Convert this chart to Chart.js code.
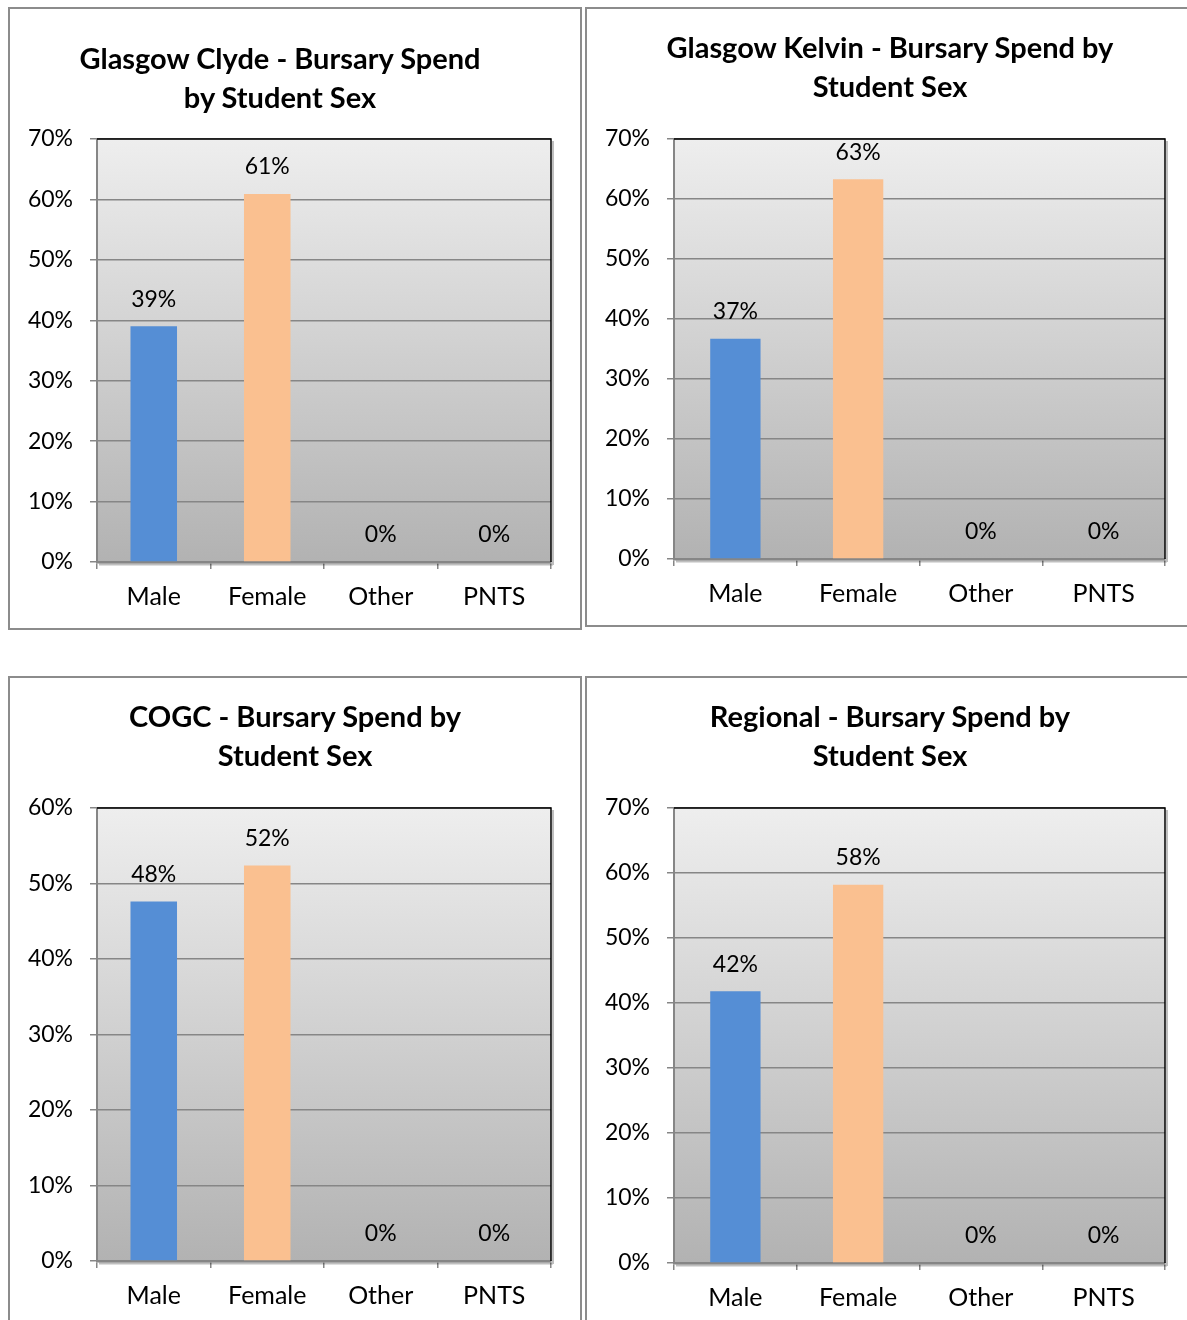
<!DOCTYPE html>
<html><head><meta charset="utf-8">
<script src="https://cdn.jsdelivr.net/npm/chart.js@4"></script>
<style>
html,body{margin:0;padding:0;background:#fff;width:1187px;height:1320px;overflow:hidden;position:relative;}
.box{position:absolute;border:2px solid #8c8c8c;box-sizing:border-box;}
.title{position:absolute;font-family:Lato,sans-serif;font-weight:bold;font-size:29px;line-height:39px;text-align:center;color:#000;white-space:nowrap;width:600px;}
canvas{position:absolute;}
</style></head><body>
<script>
// ---- data ----
const categories = ['Male', 'Female', 'Other', 'PNTS'];
const clydeValues = [39.0, 60.9, 0, 0];
const kelvinValues = [36.7, 63.3, 0, 0];
const cogcValues = [47.6, 52.4, 0, 0];
const regionalValues = [41.8, 58.2, 0, 0];
const clydeTitle = ['Glasgow Clyde - Bursary Spend', 'by Student Sex'];
const kelvinTitle = ['Glasgow Kelvin - Bursary Spend by', 'Student Sex'];
const cogcTitle = ['COGC - Bursary Spend by', 'Student Sex'];
const regionalTitle = ['Regional - Bursary Spend by', 'Student Sex'];
const clydeYMax = 70, kelvinYMax = 70, cogcYMax = 60, regionalYMax = 70;
const yStep = 10;

// ---- layout (page pixels) ----
const panels = [
  {values: clydeValues, title: clydeTitle, yMax: clydeYMax, box: [8, 7, 574, 623], plot: [97, 139, 551, 562], titleX: 280, titleY: 59},
  {values: kelvinValues, title: kelvinTitle, yMax: kelvinYMax, box: [585, 7, 610, 620], plot: [674, 139, 1165, 559], titleX: 890, titleY: 48},
  {values: cogcValues, title: cogcTitle, yMax: cogcYMax, box: [8, 676, 574, 700], plot: [97, 808, 551, 1261], titleX: 295, titleY: 717},
  {values: regionalValues, title: regionalTitle, yMax: regionalYMax, box: [585, 676, 610, 700], plot: [674, 808, 1165, 1263], titleX: 890, titleY: 717}
];

const FONT = 'Lato, sans-serif';
const LABEL_SIZE = 23;
const CAT_SIZE = 25;
const GRID = '#868686';
const XH = 60;

const bgPlugin = {
  id: 'bg',
  beforeDraw(chart) {
    const a = chart.chartArea, ctx = chart.ctx;
    const g = ctx.createLinearGradient(0, a.top, 0, a.bottom);
    g.addColorStop(0, '#eeeeee');
    g.addColorStop(1, '#b2b2b2');
    ctx.save();
    ctx.fillStyle = g;
    ctx.fillRect(a.left, a.top, a.right - a.left, a.bottom - a.top);
    ctx.restore();
  },
  afterDraw(chart) {
    const a = chart.chartArea, ctx = chart.ctx;
    ctx.save();
    ctx.strokeStyle = 'rgba(0,0,0,0.25)';
    ctx.lineWidth = 2;
    ctx.beginPath();
    ctx.moveTo(a.right + 2, a.top + 2); ctx.lineTo(a.right + 2, a.bottom + 3);
    ctx.moveTo(a.left + 2, a.bottom + 2.5); ctx.lineTo(a.right + 2, a.bottom + 2.5);
    ctx.stroke();
    ctx.strokeStyle = '#000';
    ctx.lineWidth = 1.5;
    ctx.beginPath();
    ctx.moveTo(a.left, a.top); ctx.lineTo(a.right, a.top); ctx.lineTo(a.right, a.bottom);
    ctx.stroke();
    ctx.restore();
  }
};

const labelPlugin = {
  id: 'vals',
  afterDatasetsDraw(chart) {
    const ctx = chart.ctx, meta = chart.getDatasetMeta(0);
    const data = chart.data.datasets[0].data;
    ctx.save();
    ctx.font = LABEL_SIZE + 'px ' + FONT;
    ctx.fillStyle = '#000';
    ctx.textAlign = 'center';
    ctx.textBaseline = 'middle';
    meta.data.forEach((bar, i) => {
      ctx.fillText(Math.round(data[i]) + '%', bar.x, bar.y - 27);
    });
    ctx.restore();
  }
};

panels.forEach(p => {
  const [bl, bt, bw, bh] = p.box;
  const box = document.createElement('div');
  box.className = 'box';
  Object.assign(box.style, {left: bl + 'px', top: bt + 'px', width: bw + 'px', height: bh + 'px'});
  document.body.appendChild(box);

  const cl = bl + 2, ct = bt + 2, cw = bw - 4, ch = bh - 4;
  const canvas = document.createElement('canvas');
  canvas.width = cw; canvas.height = ch;
  Object.assign(canvas.style, {left: cl + 'px', top: ct + 'px', width: cw + 'px', height: ch + 'px'});
  document.body.appendChild(canvas);

  const t = document.createElement('div');
  t.className = 'title';
  t.innerHTML = p.title.join('<br>');
  Object.assign(t.style, {left: (p.titleX - 300) + 'px', top: (p.titleY - 21.5) + 'px'});
  document.body.appendChild(t);

  const [pl, pt, pr, pb] = p.plot;
  const yW = pl - cl;
  new Chart(canvas, {
    type: 'bar',
    data: {
      labels: categories,
      datasets: [{
        data: p.values,
        backgroundColor: ['#558ED5', '#FAC090', '#558ED5', '#FAC090'],
        borderWidth: 0,
        barPercentage: 0.41,
        categoryPercentage: 1
      }]
    },
    options: {
      responsive: false,
      animation: false,
      devicePixelRatio: 1,
      layout: {padding: {left: 0, top: pt - ct, right: cw - (pr - cl), bottom: ch - (pb - ct) - XH}},
      plugins: {legend: {display: false}, title: {display: false}, tooltip: {enabled: false}},
      scales: {
        x: {
          grid: {display: true, drawOnChartArea: false, drawTicks: true, tickLength: 7, color: GRID, lineWidth: 1.5, offset: true},
          border: {display: true, color: GRID, width: 2.5},
          ticks: {font: {family: FONT, size: CAT_SIZE}, color: '#000', padding: 13, maxRotation: 0},
          afterFit: s => { s.height = XH; }
        },
        y: {
          min: 0, max: p.yMax,
          ticks: {stepSize: yStep, callback: v => v + '%', font: {family: FONT, size: LABEL_SIZE}, color: '#000', padding: 17},
          grid: {color: GRID, lineWidth: 1.5, tickLength: 7},
          border: {display: true, color: GRID, width: 2},
          afterFit: s => { s.width = yW; }
        }
      }
    },
    plugins: [bgPlugin, labelPlugin]
  });
});
</script>
</body></html>
